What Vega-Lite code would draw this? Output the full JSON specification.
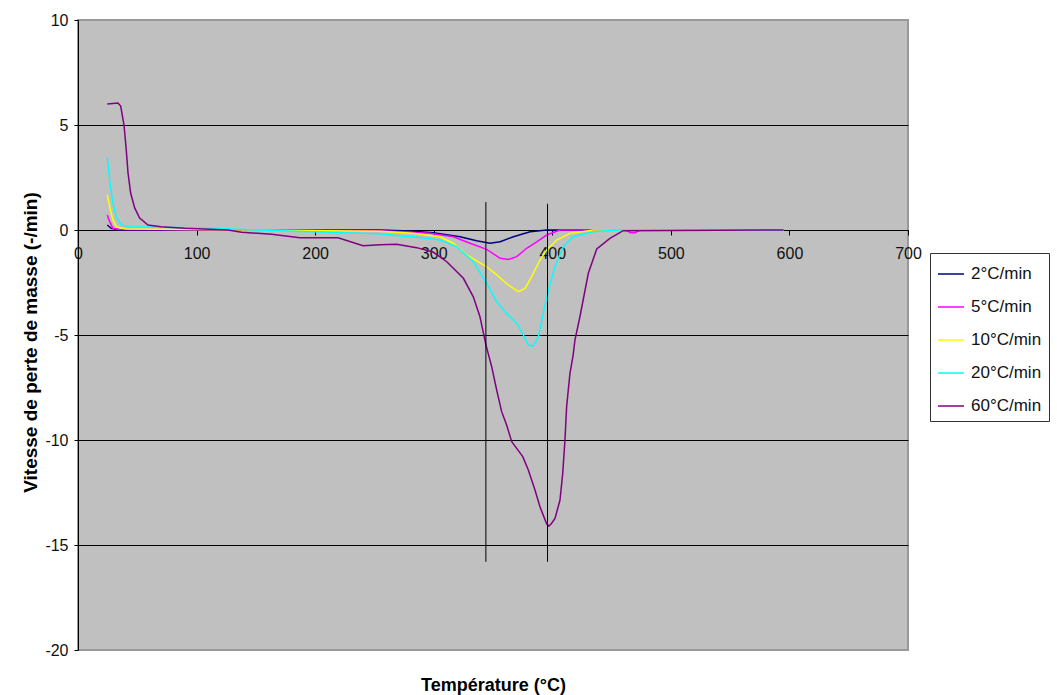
{
  "$schema": "https://vega.github.io/schema/vega-lite/v6.json",
  "width": 830,
  "height": 630,
  "autosize": "none",
  "padding": {"left": 78, "top": 20, "right": 149, "bottom": 45},
  "background": "white",
  "config": {
    "view": {"fill": "#C0C0C0", "stroke": "#999999", "strokeWidth": 2},
    "font": "Liberation Sans"
  },
  "encoding": {
    "x": {
      "field": "t", "type": "quantitative",
      "scale": {"domain": [0, 700], "nice": false, "zero": false},
      "axis": {
        "offset": -420, "values": [0, 100, 200, 300, 400, 500, 600, 700],
        "grid": false, "tickSize": 5, "tickColor": "black", "domainColor": "black",
        "labelPadding": 10, "labelFont": "Liberation Sans Narrow, Liberation Sans", "labelFontSize": 16,
        "labelColor": "#111111", "labelFlush": false, "labelOverlap": false, "labelBound": false,
        "labelExpr": "'' + datum.value",
        "title": "Température (°C)", "titleFont": "Liberation Sans", "titleFontSize": 18, "titleFontWeight": "bold",
        "titleColor": "black", "titleX": 415, "titleY": 455, "titleBaseline": "middle", "titleAlign": "center"
      }
    },
    "y": {
      "field": "v", "type": "quantitative",
      "scale": {"domain": [-20, 10], "nice": false, "zero": false},
      "axis": {
        "values": [-20, -15, -10, -5, 0, 5, 10],
        "tickSize": 4, "tickColor": "black", "domainColor": "black",
        "labelPadding": 6, "labelFont": "Liberation Sans Narrow, Liberation Sans", "labelFontSize": 16,
        "labelColor": "#111111", "labelFlush": false, "labelOverlap": false,
        "labelExpr": "'' + datum.value",
        "grid": true, "gridWidth": 1,
        "gridColor": {"condition": {"test": "datum.value > -20 && datum.value < 10", "value": "black"}, "value": "transparent"},
        "title": "Vitesse de perte de masse (-/min)", "titleFont": "Liberation Sans", "titleFontSize": 19, "titleFontWeight": "bold",
        "titleColor": "black", "titleX": -48, "titleY": 322, "titleAngle": -90, "titleBaseline": "middle", "titleAlign": "center"
      }
    }
  },
  "layer": [
    {
      "data": {"values": [
        {"s": "2°C/min", "t": 24.7, "v": 0.24}, {"s": "2°C/min", "t": 28, "v": 0.08}, {"s": "2°C/min", "t": 35, "v": 0},
        {"s": "2°C/min", "t": 100, "v": 0}, {"s": "2°C/min", "t": 200, "v": 0}, {"s": "2°C/min", "t": 254.7, "v": 0},
        {"s": "2°C/min", "t": 280, "v": -0.05}, {"s": "2°C/min", "t": 299.7, "v": -0.13}, {"s": "2°C/min", "t": 322.2, "v": -0.32},
        {"s": "2°C/min", "t": 336.2, "v": -0.51}, {"s": "2°C/min", "t": 347.5, "v": -0.63}, {"s": "2°C/min", "t": 356, "v": -0.56},
        {"s": "2°C/min", "t": 367.2, "v": -0.32}, {"s": "2°C/min", "t": 381.3, "v": -0.08}, {"s": "2°C/min", "t": 395.3, "v": 0},
        {"s": "2°C/min", "t": 595, "v": 0},

        {"s": "5°C/min", "t": 24.7, "v": 0.71}, {"s": "5°C/min", "t": 26.7, "v": 0.4}, {"s": "5°C/min", "t": 29.5, "v": 0.08},
        {"s": "5°C/min", "t": 35, "v": 0.02}, {"s": "5°C/min", "t": 150, "v": 0}, {"s": "5°C/min", "t": 254.7, "v": -0.03},
        {"s": "5°C/min", "t": 296.9, "v": -0.16}, {"s": "5°C/min", "t": 316.5, "v": -0.32}, {"s": "5°C/min", "t": 330.6, "v": -0.63},
        {"s": "5°C/min", "t": 344.7, "v": -0.92}, {"s": "5°C/min", "t": 356, "v": -1.35}, {"s": "5°C/min", "t": 363, "v": -1.4},
        {"s": "5°C/min", "t": 370, "v": -1.27}, {"s": "5°C/min", "t": 378.4, "v": -0.87}, {"s": "5°C/min", "t": 386.9, "v": -0.56},
        {"s": "5°C/min", "t": 395.3, "v": -0.24}, {"s": "5°C/min", "t": 406.5, "v": 0}, {"s": "5°C/min", "t": 462, "v": 0},
        {"s": "5°C/min", "t": 466, "v": -0.13}, {"s": "5°C/min", "t": 470, "v": -0.13}, {"s": "5°C/min", "t": 474, "v": 0},
        {"s": "5°C/min", "t": 595, "v": 0},

        {"s": "10°C/min", "t": 24.7, "v": 1.67}, {"s": "10°C/min", "t": 26.7, "v": 1.11}, {"s": "10°C/min", "t": 29.5, "v": 0.48},
        {"s": "10°C/min", "t": 32.3, "v": 0.16}, {"s": "10°C/min", "t": 40, "v": 0.05}, {"s": "10°C/min", "t": 150, "v": 0},
        {"s": "10°C/min", "t": 230, "v": -0.05}, {"s": "10°C/min", "t": 254.7, "v": -0.06}, {"s": "10°C/min", "t": 282.8, "v": -0.16},
        {"s": "10°C/min", "t": 305.3, "v": -0.32}, {"s": "10°C/min", "t": 316.5, "v": -0.63}, {"s": "10°C/min", "t": 327.8, "v": -1.19},
        {"s": "10°C/min", "t": 344.7, "v": -1.75}, {"s": "10°C/min", "t": 353.1, "v": -2.14}, {"s": "10°C/min", "t": 362.9, "v": -2.62},
        {"s": "10°C/min", "t": 371.4, "v": -2.94}, {"s": "10°C/min", "t": 377, "v": -2.78}, {"s": "10°C/min", "t": 382.6, "v": -2.22},
        {"s": "10°C/min", "t": 389.6, "v": -1.43}, {"s": "10°C/min", "t": 395.3, "v": -0.95}, {"s": "10°C/min", "t": 403.7, "v": -0.48},
        {"s": "10°C/min", "t": 414.9, "v": -0.16}, {"s": "10°C/min", "t": 434.6, "v": 0}, {"s": "10°C/min", "t": 595, "v": 0},

        {"s": "20°C/min", "t": 24.7, "v": 3.46}, {"s": "20°C/min", "t": 26.7, "v": 2.38}, {"s": "20°C/min", "t": 29.5, "v": 1.27},
        {"s": "20°C/min", "t": 32.3, "v": 0.63}, {"s": "20°C/min", "t": 36.5, "v": 0.24}, {"s": "20°C/min", "t": 42.2, "v": 0.16},
        {"s": "20°C/min", "t": 106.8, "v": 0.1}, {"s": "20°C/min", "t": 150, "v": 0}, {"s": "20°C/min", "t": 229.4, "v": -0.14},
        {"s": "20°C/min", "t": 254.7, "v": -0.18}, {"s": "20°C/min", "t": 271.6, "v": -0.28}, {"s": "20°C/min", "t": 282.8, "v": -0.32},
        {"s": "20°C/min", "t": 305.3, "v": -0.48}, {"s": "20°C/min", "t": 319.4, "v": -0.79}, {"s": "20°C/min", "t": 333.4, "v": -1.51},
        {"s": "20°C/min", "t": 344.7, "v": -2.54}, {"s": "20°C/min", "t": 353.1, "v": -3.41}, {"s": "20°C/min", "t": 361.5, "v": -3.97},
        {"s": "20°C/min", "t": 370, "v": -4.44}, {"s": "20°C/min", "t": 375.6, "v": -5.0}, {"s": "20°C/min", "t": 379.8, "v": -5.48},
        {"s": "20°C/min", "t": 384, "v": -5.52}, {"s": "20°C/min", "t": 388.2, "v": -5.08}, {"s": "20°C/min", "t": 392.4, "v": -3.97},
        {"s": "20°C/min", "t": 396.7, "v": -2.86}, {"s": "20°C/min", "t": 402.3, "v": -1.75}, {"s": "20°C/min", "t": 409.3, "v": -0.79},
        {"s": "20°C/min", "t": 417.7, "v": -0.32}, {"s": "20°C/min", "t": 434.6, "v": -0.08}, {"s": "20°C/min", "t": 455.7, "v": 0},
        {"s": "20°C/min", "t": 595, "v": 0},

        {"s": "60°C/min", "t": 24.7, "v": 6.0}, {"s": "60°C/min", "t": 33.7, "v": 6.05}, {"s": "60°C/min", "t": 36, "v": 5.9},
        {"s": "60°C/min", "t": 38.8, "v": 5.0}, {"s": "60°C/min", "t": 40.7, "v": 3.81}, {"s": "60°C/min", "t": 42.2, "v": 2.71},
        {"s": "60°C/min", "t": 44.4, "v": 1.76}, {"s": "60°C/min", "t": 47.8, "v": 1.05}, {"s": "60°C/min", "t": 52, "v": 0.57},
        {"s": "60°C/min", "t": 59, "v": 0.24}, {"s": "60°C/min", "t": 70, "v": 0.16}, {"s": "60°C/min", "t": 90, "v": 0.08},
        {"s": "60°C/min", "t": 126.5, "v": 0}, {"s": "60°C/min", "t": 138, "v": -0.11}, {"s": "60°C/min", "t": 163.4, "v": -0.2},
        {"s": "60°C/min", "t": 187.2, "v": -0.37}, {"s": "60°C/min", "t": 219.3, "v": -0.37}, {"s": "60°C/min", "t": 240.4, "v": -0.75},
        {"s": "60°C/min", "t": 254.7, "v": -0.7}, {"s": "60°C/min", "t": 268.8, "v": -0.68}, {"s": "60°C/min", "t": 285.6, "v": -0.84},
        {"s": "60°C/min", "t": 299.5, "v": -1.05}, {"s": "60°C/min", "t": 311, "v": -1.51}, {"s": "60°C/min", "t": 325, "v": -2.3},
        {"s": "60°C/min", "t": 333.4, "v": -3.18}, {"s": "60°C/min", "t": 339, "v": -4.13}, {"s": "60°C/min", "t": 344.1, "v": -5.48},
        {"s": "60°C/min", "t": 348.9, "v": -6.51}, {"s": "60°C/min", "t": 353.1, "v": -7.62}, {"s": "60°C/min", "t": 357.3, "v": -8.65},
        {"s": "60°C/min", "t": 361.5, "v": -9.29}, {"s": "60°C/min", "t": 365.8, "v": -10.08}, {"s": "60°C/min", "t": 370, "v": -10.4},
        {"s": "60°C/min", "t": 375.1, "v": -10.79}, {"s": "60°C/min", "t": 379.8, "v": -11.43}, {"s": "60°C/min", "t": 385.4, "v": -12.38},
        {"s": "60°C/min", "t": 389.6, "v": -13.18}, {"s": "60°C/min", "t": 395.3, "v": -14.0}, {"s": "60°C/min", "t": 397, "v": -14.1},
        {"s": "60°C/min", "t": 399, "v": -14.0}, {"s": "60°C/min", "t": 402.3, "v": -13.73}, {"s": "60°C/min", "t": 406.5, "v": -12.86},
        {"s": "60°C/min", "t": 408.8, "v": -11.59}, {"s": "60°C/min", "t": 410.7, "v": -10.0}, {"s": "60°C/min", "t": 412.1, "v": -8.41},
        {"s": "60°C/min", "t": 414.9, "v": -6.83}, {"s": "60°C/min", "t": 417.5, "v": -6.0}, {"s": "60°C/min", "t": 419.1, "v": -5.24},
        {"s": "60°C/min", "t": 423.3, "v": -4.13}, {"s": "60°C/min", "t": 430.4, "v": -2.06}, {"s": "60°C/min", "t": 437.5, "v": -0.9},
        {"s": "60°C/min", "t": 448.6, "v": -0.4}, {"s": "60°C/min", "t": 459.8, "v": -0.03}, {"s": "60°C/min", "t": 595, "v": 0}
      ]},
      "mark": {"type": "line", "strokeWidth": 1.5},
      "encoding": {
        "color": {
          "field": "s", "type": "nominal",
          "scale": {"domain": ["2°C/min", "5°C/min", "10°C/min", "20°C/min", "60°C/min"],
                    "range": ["#000080", "#FF00FF", "#FFFF00", "#00FFFF", "#800080"]},
          "legend": {
            "title": null, "orient": "none", "legendX": 852, "legendY": 233,
            "symbolType": "stroke", "symbolSize": 676, "symbolStrokeWidth": 1.5,
            "labelFont": "Liberation Sans", "labelFontSize": 17, "labelColor": "#111111", "labelOffset": 6,
            "strokeColor": "#333333", "fillColor": "white", "padding": 7, "rowPadding": 11
          }
        }
      }
    },
    {
      "data": {"values": [
        {"t": 344, "v": 1.33, "v2": -15.8},
        {"t": 396, "v": 1.25, "v2": -15.8}
      ]},
      "mark": {"type": "rule", "color": "black", "strokeWidth": 1},
      "encoding": {"y2": {"field": "v2"}}
    }
  ]
}
